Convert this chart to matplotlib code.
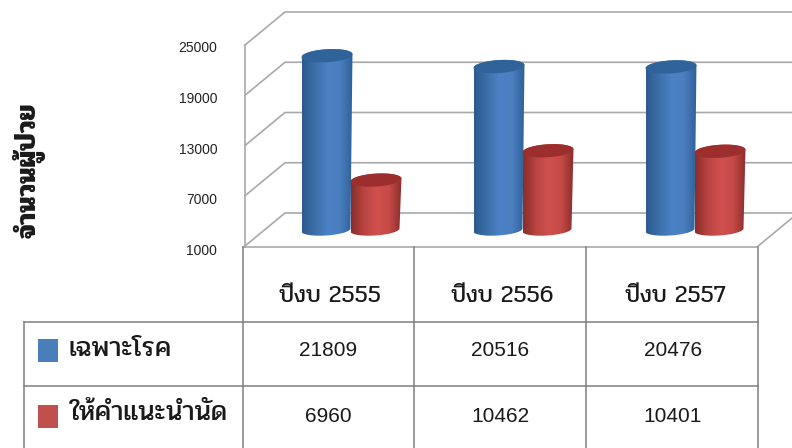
import numpy as np
import matplotlib
matplotlib.use('Agg')
import matplotlib.pyplot as plt
from matplotlib.colors import LinearSegmentedColormap
from matplotlib.patches import PathPatch, Polygon, Rectangle
from matplotlib.path import Path

years = ['ปีงบ 2555', 'ปีงบ 2556', 'ปีงบ 2557']
series_names = ['เฉพาะโรค', 'ให้คำแนะนำนัด']
specific = [21809, 20516, 20476]
advice = [6960, 10462, 10401]
y_ticks = [1000, 7000, 13000, 19000, 25000]
y_title = 'จำนวนผู้ป่วย'

W, H = 792, 448
THAI = ['Pridi', 'Sarabun', 'DejaVu Sans']
SANS = ['Liberation Sans', 'DejaVu Sans']
LINE = '#a9a9a9'
TABLE = '#7f7f7f'
BLUE = ['#2c5a8e', '#3c6fa9', '#4b82c6', '#4a7fc0', '#2f6098']
RED = ['#8a2d2b', '#b94441', '#d0504e', '#c64a47', '#8c2e2c']
BLUE_TOP = '#2f6399'
RED_TOP = '#9c2f2d'


def px_axes(left, top, right, bottom):
    return fig.add_axes([left / W, 1 - bottom / H, (right - left) / W, (bottom - top) / H])


fig = plt.figure(figsize=(W / 100, H / 100), dpi=100, facecolor='white')

# background in pixels: walls, floor and table
bg = px_axes(0, 0, W, H)
bg.set_xlim(0, W)
bg.set_ylim(H, 0)
bg.axis('off')

px_per_val = 201 / (y_ticks[-1] - y_ticks[0])
for v in y_ticks:
    front = 246 - (v - y_ticks[0]) * px_per_val
    back = front - 33
    bg.plot([245, 285, W], [front, back, back], color=LINE, lw=1.2, solid_joinstyle='miter')
bg.plot([245, 245], [45, 247], color=LINE, lw=1.2)
bg.plot([243, 757, W], [247, 247, 218], color=LINE, lw=1.2)

for x in [243, 414, 586, 758]:
    bg.plot([x, x], [247, H], color=TABLE, lw=1.1)
bg.plot([24, 24], [322, H], color=TABLE, lw=1.1)
for y in [322, 386]:
    bg.plot([24, 758], [y, y], color=TABLE, lw=1.1)

for x, label in zip([330, 502, 675], years):
    bg.text(x, 296, label, family=THAI, fontsize=17, ha='center', va='center', color='#1a1a1a')
for x, a, b in zip([328, 500, 673], specific, advice):
    bg.text(x, 351, str(a), family=SANS, fontsize=15, ha='center', va='center', color='#1a1a1a')
    bg.text(x, 417, str(b), family=SANS, fontsize=15, ha='center', va='center', color='#1a1a1a')

bg.add_patch(Rectangle((38, 339), 20, 23, color='#4a7ebb', lw=0))
bg.add_patch(Rectangle((38, 405), 20, 23, color='#c0504d', lw=0))
bg.text(68, 349, series_names[0], family=THAI, fontsize=20, ha='left', va='center', color='#1a1a1a')
bg.text(70, 414, series_names[1], family=THAI, fontsize=20, ha='left', va='center', color='#1a1a1a')
bg.text(29, 170, y_title, family=THAI, fontsize=20, fontweight='bold', rotation=90,
        ha='center', va='center', color='#1a1a1a')

# value axis on the front edge, only the labels show
front_ax = px_axes(245, 47, 757, 249)
front_ax.patch.set_visible(False)
front_ax.set_ylim(y_ticks[0], y_ticks[-1])
front_ax.set_yticks(y_ticks)
front_ax.set_yticklabels([str(v) for v in y_ticks], family=SANS, fontsize=10, color='#222222')
front_ax.set_xticks([])
front_ax.tick_params(axis='y', length=0, pad=20)
for s in front_ax.spines.values():
    s.set_visible(False)

# cylinders stand half way back on the floor
y_low, y_high = 0, 26000
ax = px_axes(240, 29 - (y_high - y_ticks[-1]) * px_per_val,
             760, 230 + (y_ticks[0] - y_low) * px_per_val)
ax.patch.set_visible(False)
ax.axis('off')
px_x = 172
xlim = ((240 - 350.5) / px_x, (760 - 350.5) / px_x)
half_w = 24.5 / px_x
half_h = 5.5 / px_per_val
top_h = 6.5 / px_per_val
tilt = 1.5 / px_per_val


def cylinder(cx, value, colors, top_color):
    t = np.linspace(np.pi, 2 * np.pi, 40)
    top_w = half_w * 1.04
    bx = cx + half_w * np.cos(t)
    by = y_ticks[0] + half_h * np.sin(t) + tilt * np.cos(t)
    tx = cx + (top_w - half_w) + top_w * np.cos(t[::-1])
    ty = value - top_h * np.sin(t[::-1]) + tilt * np.cos(t[::-1])
    body = np.column_stack([np.r_[bx, tx], np.r_[by, ty]])
    cmap = LinearSegmentedColormap.from_list('c', colors)
    img = ax.imshow(np.linspace(0, 1, 64).reshape(1, -1), cmap=cmap, aspect='auto',
                    extent=(cx - half_w, cx + half_w + 2 * (top_w - half_w), y_low, y_high), zorder=2)
    patch = PathPatch(Path(np.vstack([body, body[0]])), transform=ax.transData, fc='none', ec='none')
    ax.add_patch(patch)
    img.set_clip_path(patch)
    t2 = np.linspace(0, 2 * np.pi, 60)
    ax.add_patch(Polygon(np.column_stack([cx + (top_w - half_w) + top_w * np.cos(t2),
                                          value + top_h * np.sin(t2) + tilt * np.cos(t2)]),
                         fc=top_color, ec='none', zorder=3))


offset = 24.5 / px_x
for i in range(len(years)):
    cylinder(i + offset, advice[i], RED, RED_TOP)
for i in range(len(years)):
    cylinder(i - offset, specific[i], BLUE, BLUE_TOP)
ax.set_xlim(*xlim)
ax.set_ylim(y_low, y_high)

fig.savefig('out.png', dpi=100, facecolor='white')
